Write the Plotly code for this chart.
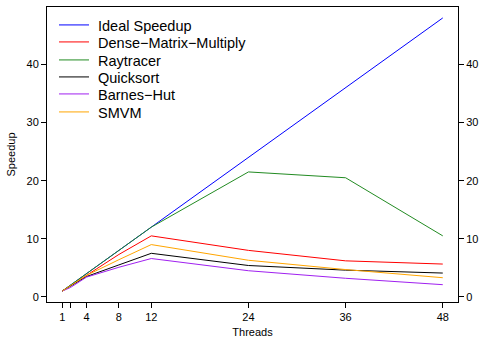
import plotly.graph_objects as go

threads = [1, 2, 4, 8, 12, 24, 36, 48]
tick_vals = [1, 2, 4, 8, 12, 24, 36, 48]
tick_text = ["1", "", "4", "8", "12", "24", "36", "48"]

ideal = [1, 2, 4, 8, 12, 24, 36, 48]
dense = [1, 1.9, 3.8, 7.3, 10.5, 8.0, 6.2, 5.65]
raytracer = [1, 2, 4, 8, 12, 21.5, 20.5, 10.5]
quicksort = [1, 1.8, 3.5, 5.5, 7.5, 5.4, 4.6, 4.1]
barnes = [1, 1.6, 3.4, 5.1, 6.6, 4.5, 3.2, 2.1]
smvm = [1, 1.9, 3.7, 6.4, 9.0, 6.3, 4.7, 3.3]

series_names = ["Ideal Speedup", "Dense\u2212Matrix\u2212Multiply", "Raytracer",
                "Quicksort", "Barnes\u2212Hut", "SMVM"]
series_values = [ideal, dense, raytracer, quicksort, barnes, smvm]
series_colors = ["#0000FF", "#FF0000", "#228B22", "#000000", "#A020F0", "#FFA500"]

FONT = "Liberation Sans, Arial, sans-serif"
W, H = 482, 338
ML, MR, MT, MB = 47, 24, 7, 36
PW, PH = W - ML - MR, H - MT - MB

fig = go.Figure()
legend_ids = ["legend"] + ["legend%d" % i for i in range(2, 7)]
for i, (name, vals, color) in enumerate(zip(series_names, series_values, series_colors)):
    fig.add_trace(go.Scatter(x=threads, y=vals, mode="lines", name="\u00a0" + name,
                             line=dict(color=color, width=1),
                             legend=legend_ids[i]))
# invisible trace to carry right-hand axis
fig.add_trace(go.Scatter(x=threads, y=ideal, mode="lines", yaxis="y2",
                         line=dict(color="rgba(0,0,0,0)", width=0),
                         showlegend=False, hoverinfo="skip"))

yrange = [-0.88, 49.88]
xrange = [-0.88, 49.88]

legend_layout = {}
for i, lid in enumerate(legend_ids):
    ypx = round(24.8 + 17.35 * i)
    legend_layout[lid] = dict(
        x=(54 - ML) / PW, y=(H - MB - ypx) / PH, xanchor="left", yanchor="middle",
        bgcolor="rgba(0,0,0,0)", borderwidth=0,
        font=dict(family=FONT, size=14.5, color="black"),
        itemwidth=30)

fig.update_layout(
    width=W, height=H,
    margin=dict(l=ML, r=MR, t=MT, b=MB),
    paper_bgcolor="white", plot_bgcolor="white",
    font=dict(family=FONT, size=11, color="black"),
    showlegend=True,
    xaxis=dict(range=xrange, tickvals=tick_vals, ticktext=tick_text,
               showgrid=False, zeroline=False, showline=True, mirror=True,
               linecolor="black", linewidth=1, ticks="outside", ticklen=5,
               tickcolor="black", tickfont=dict(size=11), automargin=False,
               title=dict(text="Threads", font=dict(size=11), standoff=16)),
    yaxis=dict(range=yrange, tickvals=[0, 10, 20, 30, 40],
               showgrid=False, zeroline=False, showline=True, mirror=True,
               linecolor="black", linewidth=1, ticks="outside", ticklen=5,
               tickcolor="black", tickfont=dict(size=11), automargin=False,
               title=dict(text="Speedup", font=dict(size=11), standoff=8)),
    yaxis2=dict(range=yrange, tickvals=[0, 10, 20, 30, 40], overlaying="y",
                side="right", showgrid=False, zeroline=False, showline=False,
                ticks="outside", ticklen=5, tickcolor="black", automargin=False,
                tickfont=dict(size=11)),
    **legend_layout,
)

fig.write_html("out.html")
